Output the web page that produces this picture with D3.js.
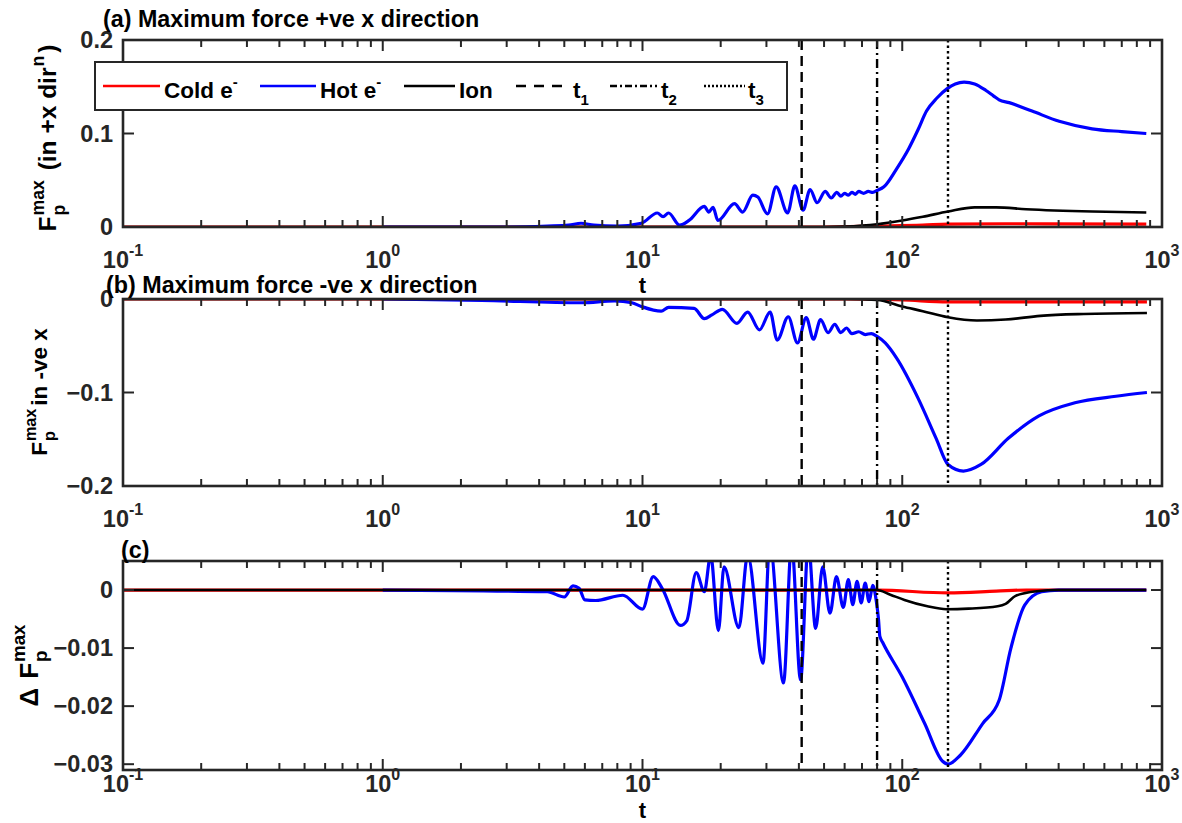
<!DOCTYPE html>
<html>
<head>
<meta charset="utf-8">
<script src="https://cdn.jsdelivr.net/npm/d3@7"></script>
<style>
body { margin: 0; background: #fff; }
text { font-family: "Liberation Sans", Arial, sans-serif; font-weight: bold; fill: #000; }
</style>
</head>
<body>
<svg width="1182" height="823"></svg>
<script>
// marker times for the vertical lines
const tMarks = [41, 80, 150];

// (a) maximum force, +ve x direction : [t, F]
const hotA = [[1,0],[3,0],[4.3,0.001],[5.2,0.002],[5.8,0.004],[6.5,0.002],[8,0.001],[9.9,0.004],[11.4,0.015],[12,0.011],
  [12.6,0.015],[13.9,0.002],[15.1,0.007],[17.3,0.022],[18,0.016],[18.7,0.021],[19.5,0.007],[22.6,0.025],[24.3,0.016],
  [26.6,0.034],[27.8,0.032],[30.3,0.014],[32.7,0.043],[36.2,0.015],[38.6,0.044],[41.5,0.018],[44.2,0.040],[47,0.026],
  [50.5,0.038],[53.3,0.031],[56,0.037],[58,0.033],[60,0.036],[62,0.034],[64,0.037],[66,0.035],[68,0.038],[71,0.036],
  [74,0.038],[77,0.037],[80,0.039],[85,0.043],[95,0.062],[106,0.084],[115,0.104],[124,0.124],[136,0.138],[149,0.148],
  [160,0.153],[173,0.155],[190,0.153],[210,0.146],[225,0.140],[236,0.136],[258,0.133],[316,0.124],[402,0.113],
  [538,0.105],[700,0.102],[870,0.100]];
const ionA = [[0.1,0],[50,0],[60,0.0005],[80,0.003],[100,0.007],[120,0.011],[150,0.0165],[190,0.021],[230,0.021],
  [300,0.019],[540,0.0165],[870,0.0155]];
const coldA = [[0.1,0],[50,0],[80,0.001],[120,0.002],[150,0.003],[250,0.0035],[870,0.003]];

// (b) maximum force, -ve x direction
const hotB = [[1,0],[2.4,-0.0016],[5.85,-0.004],[7.8,-0.002],[9.1,-0.004],[9.9,-0.008],[11.8,-0.013],[12.6,-0.009],
  [15.8,-0.010],[17.3,-0.021],[18.5,-0.017],[20.3,-0.011],[23.1,-0.026],[25.4,-0.014],[28.2,-0.033],[31,-0.014],
  [33,-0.044],[36.4,-0.019],[39.5,-0.047],[42.7,-0.020],[45.5,-0.043],[48.5,-0.022],[51.8,-0.036],[55,-0.027],
  [58,-0.036],[61,-0.031],[64,-0.037],[68,-0.035],[72,-0.038],[76,-0.037],[80,-0.040],[86,-0.047],[95,-0.063],
  [115,-0.106],[135,-0.149],[150,-0.177],[172,-0.184],[201,-0.177],[256,-0.149],[336,-0.125],[462,-0.111],
  [665,-0.104],[875,-0.100]];
const ionB = [[0.1,0],[60,0],[80,-0.001],[100,-0.008],[120,-0.013],[150,-0.0195],[194,-0.023],[250,-0.022],
  [340,-0.018],[500,-0.016],[875,-0.015]];
const coldB = [[0.1,0],[60,0],[100,-0.001],[150,-0.003],[875,-0.003]];

// (c) difference of the two
const hotC = [[1,0],[4.3,-0.0003],[5,-0.0012],[5.4,0.0007],[5.7,0.0003],[6,-0.0017],[6.6,-0.0018],[8.4,-0.0009],
  [10,-0.0033],[11,0.0023],[11.9,0.0003],[14,-0.0061],[14.8,-0.0053],[16.1,0.003],[17.3,-0.0003],[18.3,0.006],
  [19.6,-0.007],[20.6,0.004],[23.5,-0.0065],[25.4,0.006],[29.1,-0.0126],[30.9,0.008],[34.9,-0.016],[37.5,0.008],
  [40.6,-0.0155],[43.5,0.008],[46.4,-0.0066],[49.4,0.004],[52.7,-0.004],[55.8,0.0023],[59.3,-0.003],[62,0.0018],
  [64.5,-0.0025],[67,0.0015],[69.5,-0.0022],[72,0.0012],[74.5,-0.002],[77,0.0008],[79.5,-0.002],[81,-0.005],
  [82,-0.008],[84,-0.009],[100,-0.015],[122,-0.023],[143,-0.0295],[150,-0.030],[167,-0.0285],[204,-0.023],
  [236,-0.019],[262,-0.010],[296,-0.0026],[344,-0.0003],[400,0],[870,0]];
const ionC = [[0.1,0],[80,0],[90,-0.0008],[102,-0.0017],[125,-0.0028],[148,-0.0033],[180,-0.0032],[233,-0.0028],
  [250,-0.0024],[273,-0.001],[330,-0.0002],[400,0],[870,0]];
const coldC = [[0.1,0],[80,0],[150,-0.0005],[230,-0.0002],[300,0],[870,0]];

const yTicksA = [0, 0.1, 0.2];
const yTicksB = [-0.2, -0.1, 0];
const yTicksC = [-0.03, -0.02, -0.01, 0];
const xTickExp = [-1, 0, 1, 2, 3];

const axisCol = "#262626";
const svg = d3.select("svg");
const left = 123, right = 1162;
const x = d3.scaleLog().domain([0.1, 1000]).range([left, right]);

const panels = [
  { id: "a", top: 40, bottom: 227, domain: [0, 0.2], ticks: yTicksA, cold: coldA, hot: hotA, ion: ionA,
    title: "(a) Maximum force +ve x direction", titleX: 103, titleY: 27, labOff: 41, xlabOff: 66,
    labX: 56, labY: 138, labSize: 24.5,
    ylab: [{t: "F"}, {sup: "max", sub: "p"}, {t: " (in +x dir"}, {sup: "n"}, {t: ")"}] },
  { id: "b", top: 299, bottom: 486, domain: [-0.2, 0], ticks: yTicksB, cold: coldB, hot: hotB, ion: ionB,
    title: "(b) Maximum force -ve x direction", titleX: 106, titleY: 293, labOff: 41, xlabOff: null,
    labX: 47, labY: 392, labSize: 22.5,
    ylab: [{t: "F"}, {sup: "max", sub: "p"}, {t: "in -ve x"}] },
  { id: "c", top: 561, bottom: 770, domain: [-0.031, 0.005], ticks: yTicksC, cold: coldC, hot: hotC, ion: ionC,
    title: "(c)", titleX: 121, titleY: 558, labOff: 22, xlabOff: 48,
    labX: 38, labY: 664, labSize: 26,
    ylab: [{t: "\u0394"}, {gap: 9}, {t: "F"}, {sup: "max", sub: "p"}] }
];

function fmt(v) {
  if (v === 0) return "0";
  return d3.format("")(+v.toFixed(3));
}

function richLabel(g, pieces, size) {
  const small = size * 0.72;
  let cx = 0;
  pieces.forEach(p => {
    if (p.gap) { cx += p.gap; return; }
    if (p.sup || p.sub) {
      let w = 0;
      if (p.sup) {
        const s = g.append("text").attr("x", cx + 1).attr("y", -size * 0.5).style("font-size", small + "px").text(p.sup);
        w = Math.max(w, s.node().getComputedTextLength());
      }
      if (p.sub) {
        const s = g.append("text").attr("x", cx + 1).attr("y", size * 0.36).style("font-size", small + "px").text(p.sub);
        w = Math.max(w, s.node().getComputedTextLength());
      }
      cx += w + 4;
    } else {
      const s = g.append("text").attr("x", cx).attr("y", 0).style("font-size", size + "px")
        .style("white-space", "pre").text(p.t);
      cx += s.node().getComputedTextLength();
    }
  });
  return cx;
}

const minorT = [];
for (let k = -1; k < 3; k++) for (let m = 2; m < 10; m++) minorT.push(m * Math.pow(10, k));

panels.forEach(p => {
  const y = d3.scaleLinear().domain(p.domain).range([p.bottom, p.top]);
  const g = svg.append("g").attr("class", "panel-" + p.id);

  g.append("rect").attr("x", left).attr("y", p.top).attr("width", right - left).attr("height", p.bottom - p.top)
    .attr("fill", "#fff");

  svg.append("defs").append("clipPath").attr("id", "clip-" + p.id)
    .append("rect").attr("x", left).attr("y", p.top).attr("width", right - left).attr("height", p.bottom - p.top);

  const plot = g.append("g").attr("clip-path", `url(#clip-${p.id})`);
  const line = d3.line().x(d => x(d[0])).y(d => y(d[1])).curve(d3.curveMonotoneX);

  plot.append("path").datum(p.cold).attr("d", line).attr("fill", "none").attr("stroke", "#ff0000").attr("stroke-width", 3.2);
  plot.append("path").datum(p.hot).attr("d", line).attr("fill", "none").attr("stroke", "#0000ff").attr("stroke-width", 3.2);
  plot.append("path").datum(p.ion).attr("d", line).attr("fill", "none").attr("stroke", "#000").attr("stroke-width", 2.6);

  const dashes = ["10,6", "9,4,2,4", "2.5,3"];
  plot.selectAll("line.mark").data(tMarks).enter().append("line")
    .attr("class", "mark")
    .attr("x1", d => x(d)).attr("x2", d => x(d))
    .attr("y1", p.top).attr("y2", p.bottom)
    .attr("stroke", "#000").attr("stroke-width", 2.4)
    .attr("stroke-dasharray", (d, i) => dashes[i]);

  // ticks, inside, on all four sides
  const tk = g.append("g").attr("stroke", axisCol).attr("stroke-width", 2);
  xTickExp.forEach(e => {
    const xx = x(Math.pow(10, e));
    tk.append("line").attr("x1", xx).attr("x2", xx).attr("y1", p.bottom).attr("y2", p.bottom - 11);
    tk.append("line").attr("x1", xx).attr("x2", xx).attr("y1", p.top).attr("y2", p.top + 11);
  });
  minorT.forEach(t => {
    const xx = x(t);
    tk.append("line").attr("x1", xx).attr("x2", xx).attr("y1", p.bottom).attr("y2", p.bottom - 7);
    tk.append("line").attr("x1", xx).attr("x2", xx).attr("y1", p.top).attr("y2", p.top + 7);
  });
  p.ticks.forEach(v => {
    const yy = y(v);
    tk.append("line").attr("x1", left).attr("x2", left + 11).attr("y1", yy).attr("y2", yy);
    tk.append("line").attr("x1", right).attr("x2", right - 11).attr("y1", yy).attr("y2", yy);
  });

  g.append("rect").attr("x", left).attr("y", p.top).attr("width", right - left).attr("height", p.bottom - p.top)
    .attr("fill", "none").attr("stroke", axisCol).attr("stroke-width", 2.6);

  // tick labels
  p.ticks.forEach(v => {
    g.append("text").attr("x", left - 10).attr("y", y(v) + 8).attr("text-anchor", "end")
      .style("font-size", "23.5px").style("fill", axisCol).text(fmt(v));
  });
  xTickExp.forEach(e => {
    const t = g.append("text").attr("x", x(Math.pow(10, e))).attr("y", p.bottom + p.labOff)
      .attr("text-anchor", "middle").style("font-size", "23.5px").style("fill", axisCol);
    t.append("tspan").text("10");
    t.append("tspan").attr("dy", -12).style("font-size", "16px").text(e);
  });

  if (p.xlabOff) {
    g.append("text").attr("x", (left + right) / 2).attr("y", p.bottom + p.xlabOff).attr("text-anchor", "middle")
      .style("font-size", "22px").text("t");
  }

  g.append("text").attr("x", p.titleX).attr("y", p.titleY).style("font-size", "23.3px").text(p.title);

  const lg = g.append("g").attr("transform", `translate(${p.labX},${p.labY}) rotate(-90)`);
  const inner = lg.append("g");
  const w = richLabel(inner, p.ylab, p.labSize);
  inner.attr("transform", `translate(${-w / 2},0)`);
});

// legend
const leg = svg.append("g").attr("class", "legend");
leg.append("rect").attr("x", 95).attr("y", 62).attr("width", 692).attr("height", 48)
  .attr("fill", "#fff").attr("stroke", axisCol).attr("stroke-width", 2);
const legItems = [
  { x0: 103, x1: 160, tx: 164, col: "#ff0000", dash: null, lab: "Cold e", sup: "-" },
  { x0: 260, x1: 316, tx: 320, col: "#0000ff", dash: null, lab: "Hot e", sup: "-" },
  { x0: 404, x1: 455, tx: 459, col: "#000", dash: null, lab: "Ion" },
  { x0: 516, x1: 570, tx: 573, col: "#000", dash: "10,8", lab: "t", sub: "1" },
  { x0: 610, x1: 657, tx: 661, col: "#000", dash: "7,3,2,3", lab: "t", sub: "2" },
  { x0: 704, x1: 745, tx: 748, col: "#000", dash: "2,2", lab: "t", sub: "3" }
];
legItems.forEach(d => {
  leg.append("line").attr("x1", d.x0).attr("x2", d.x1).attr("y1", 86).attr("y2", 86)
    .attr("stroke", d.col).attr("stroke-width", 2.6).attr("stroke-dasharray", d.dash);
  const t = leg.append("text").attr("x", d.tx).attr("y", 98).style("font-size", "22.5px").text(d.lab);
  if (d.sup) t.append("tspan").attr("dy", -11).style("font-size", "15px").text(d.sup);
  if (d.sub) t.append("tspan").attr("dy", 7).style("font-size", "15px").text(d.sub);
});
</script>
</body>
</html>
